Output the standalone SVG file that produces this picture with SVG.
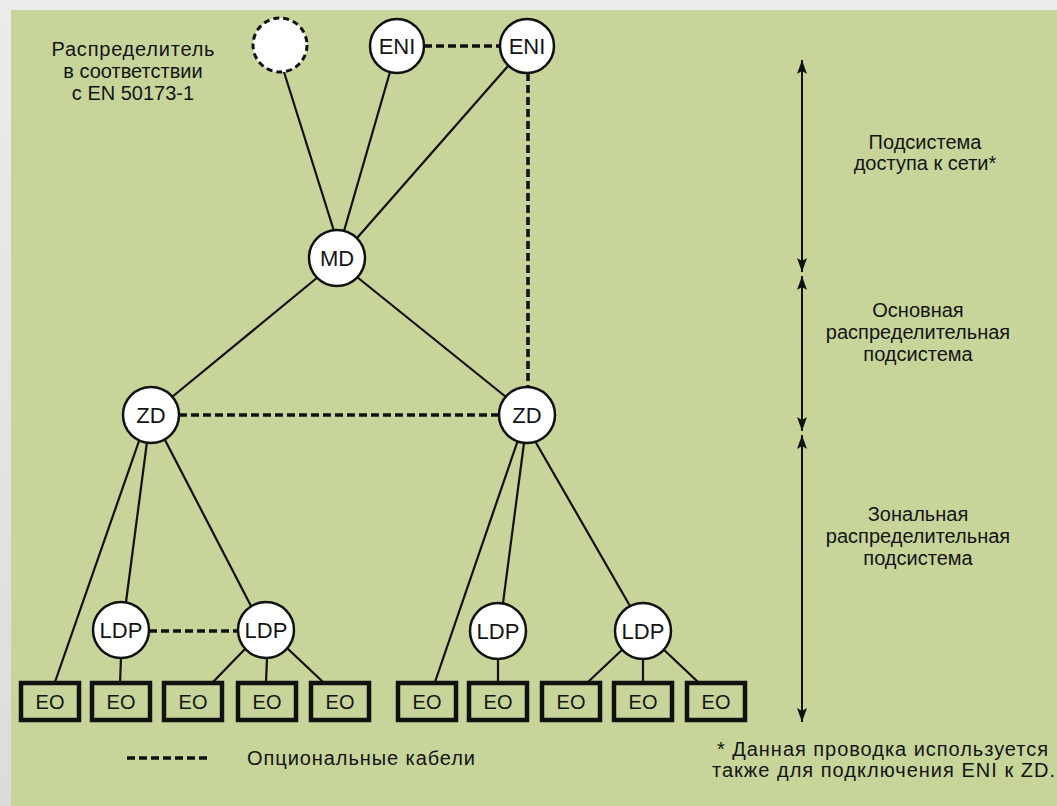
<svg xmlns="http://www.w3.org/2000/svg" width="1057" height="806" viewBox="0 0 1057 806">
<defs>
<style>
.t{font-family:"Liberation Sans",Arial,sans-serif;font-size:20px;fill:#141414}
.c{text-anchor:middle}
.nl{font-size:22px}
.nd{fill:#fff;stroke:#111;stroke-width:2.5}
.eo{fill:none;stroke:#111;stroke-width:4.5}
.ln{stroke:#111;stroke-width:2.2;fill:none}
.opt{stroke:#111;stroke-width:3.5;stroke-dasharray:8 4;fill:none}
.ax{stroke:#111;stroke-width:2;fill:none;marker-start:url(#ah);marker-end:url(#ah)}
</style>
<marker id="ah" viewBox="0 0 14 10" refX="14" refY="5" markerWidth="14" markerHeight="10" markerUnits="userSpaceOnUse" orient="auto-start-reverse">
<path d="M0,0 L14,5 L0,10 L3,5 z" fill="#111"/>
</marker>
<linearGradient id="gr" x1="0" y1="0" x2="0" y2="1">
<stop offset="0" stop-color="#ececec"/>
<stop offset="1" stop-color="#dcdcdc"/>
</linearGradient>
</defs>
<rect width="1057" height="806" fill="url(#gr)"/>
<rect x="11" y="10" width="1046" height="796" fill="#c7d59b"/>

<g id="connectors">
<line class="ln" x1="284" y1="72" x2="334" y2="231"/>
<line class="ln" x1="390" y1="72" x2="344" y2="231"/>
<line class="ln" x1="508" y1="66" x2="357" y2="238"/>
<line class="ln" x1="318" y1="277" x2="172" y2="397"/>
<line class="ln" x1="357" y1="277" x2="506" y2="397"/>
<line class="ln" x1="139" y1="441" x2="55" y2="682"/>
<line class="ln" x1="147" y1="442" x2="126" y2="602"/>
<line class="ln" x1="165" y1="440" x2="251" y2="606"/>
<line class="ln" x1="121" y1="657" x2="120" y2="684"/>
<line class="ln" x1="246" y1="648" x2="213" y2="682"/>
<line class="ln" x1="267" y1="658" x2="266" y2="682"/>
<line class="ln" x1="287" y1="648" x2="323" y2="682"/>
<line class="ln" x1="518" y1="440" x2="435" y2="682"/>
<line class="ln" x1="524" y1="443" x2="503" y2="603"/>
<line class="ln" x1="535" y1="441" x2="630" y2="606"/>
<line class="ln" x1="498" y1="658" x2="498" y2="684"/>
<line class="ln" x1="624" y1="648" x2="588" y2="682"/>
<line class="ln" x1="643" y1="658" x2="643" y2="682"/>
<line class="ln" x1="662" y1="648" x2="698" y2="682"/>
<line class="opt" x1="424" y1="46" x2="500" y2="46"/>
<line class="opt" x1="528" y1="73" x2="528" y2="387"/>
<line class="opt" x1="179" y1="415" x2="499" y2="415"/>
<line class="opt" x1="149" y1="631" x2="238" y2="631"/>
</g>

<g id="dist"><circle cx="280" cy="45" r="27" fill="#fff" stroke="#111" stroke-width="3" stroke-dasharray="6 4"/></g>
<g id="eni1"><circle class="nd" cx="397" cy="46" r="27"/><text class="t c nl" x="397" y="54">ENI</text></g>
<g id="eni2"><circle class="nd" cx="527" cy="46" r="27"/><text class="t c nl" x="527" y="54">ENI</text></g>
<g id="md"><circle class="nd" cx="337" cy="258" r="28"/><text class="t c nl" x="337" y="266">MD</text></g>
<g id="zd1"><circle class="nd" cx="151" cy="415" r="28"/><text class="t c nl" x="151" y="423">ZD</text></g>
<g id="zd2"><circle class="nd" cx="527" cy="415" r="28"/><text class="t c nl" x="527" y="423">ZD</text></g>
<g id="ldp1"><circle class="nd" cx="121" cy="630" r="28"/><text class="t c nl" x="121" y="638">LDP</text></g>
<g id="ldp2"><circle class="nd" cx="266" cy="630" r="28"/><text class="t c nl" x="266" y="638">LDP</text></g>
<g id="ldp3"><circle class="nd" cx="498" cy="631" r="28"/><text class="t c nl" x="498" y="639">LDP</text></g>
<g id="ldp4"><circle class="nd" cx="643" cy="631" r="28"/><text class="t c nl" x="643" y="639">LDP</text></g>

<g id="eo1"><rect class="eo" x="21" y="683" width="58" height="37"/><text class="t c" x="50" y="709">EO</text></g>
<g id="eo2"><rect class="eo" x="92" y="683" width="58" height="37"/><text class="t c" x="121" y="709">EO</text></g>
<g id="eo3"><rect class="eo" x="164" y="683" width="58" height="37"/><text class="t c" x="193" y="709">EO</text></g>
<g id="eo4"><rect class="eo" x="238" y="683" width="58" height="37"/><text class="t c" x="267" y="709">EO</text></g>
<g id="eo5"><rect class="eo" x="311" y="683" width="58" height="37"/><text class="t c" x="340" y="709">EO</text></g>
<g id="eo6"><rect class="eo" x="398" y="683" width="58" height="37"/><text class="t c" x="427" y="709">EO</text></g>
<g id="eo7"><rect class="eo" x="469" y="683" width="58" height="37"/><text class="t c" x="498" y="709">EO</text></g>
<g id="eo8"><rect class="eo" x="542" y="683" width="58" height="37"/><text class="t c" x="571" y="709">EO</text></g>
<g id="eo9"><rect class="eo" x="614" y="683" width="58" height="37"/><text class="t c" x="643" y="709">EO</text></g>
<g id="eo10"><rect class="eo" x="687" y="683" width="58" height="37"/><text class="t c" x="716" y="709">EO</text></g>

<g id="dist-label">
<text class="t c" x="133" y="56" textLength="163" lengthAdjust="spacing">Распределитель</text>
<text class="t c" x="133" y="78">в соответствии</text>
<text class="t c" x="133" y="100">с EN 50173-1</text>
</g>

<g id="scale">
<line class="ax" x1="802" y1="60" x2="802" y2="272"/>
<line class="ax" x1="802" y1="276" x2="802" y2="431"/>
<line class="ax" x1="802" y1="435" x2="802" y2="722"/>
<text class="t c" x="925" y="149">Подсистема</text>
<text class="t c" x="925" y="170">доступа к сети*</text>
<text class="t c" x="918" y="317">Основная</text>
<text class="t c" x="918" y="339">распределительная</text>
<text class="t c" x="918" y="361">подсистема</text>
<text class="t c" x="918" y="521">Зональная</text>
<text class="t c" x="918" y="543">распределительная</text>
<text class="t c" x="918" y="565">подсистема</text>
</g>

<g id="legend">
<line class="opt" x1="127" y1="758" x2="210" y2="758" stroke-width="4"/>
<text class="t" x="247" y="765" textLength="228" lengthAdjust="spacing">Опциональные кабели</text>
</g>
<g id="footnote">
<text class="t" x="717" y="756" textLength="331" lengthAdjust="spacing">* Данная проводка используется</text>
<text class="t" x="712" y="777" textLength="343" lengthAdjust="spacing">также для подключения ENI к ZD.</text>
</g>
</svg>
